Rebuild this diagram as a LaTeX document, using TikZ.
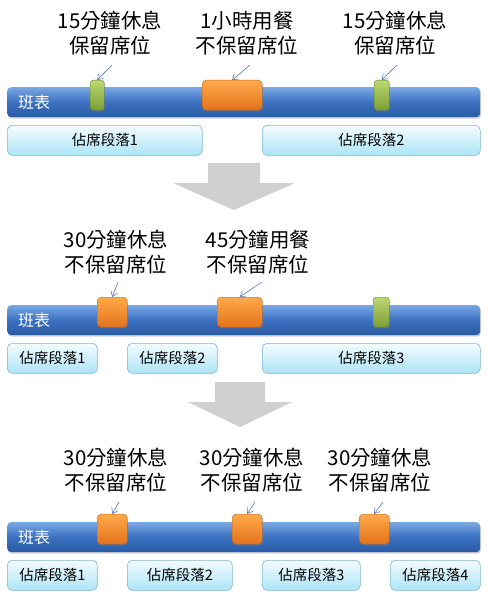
\documentclass[tikz,border=0pt]{standalone}
\usepackage{fontspec}
\setmainfont{Noto Sans CJK TC}
\usetikzlibrary{arrows.meta,shadows}
\definecolor{barTop}{HTML}{7AA8E4}
\definecolor{barMid}{HTML}{3B71C2}
\definecolor{barBot}{HTML}{2A5AA4}
\definecolor{greenTop}{HTML}{BCD973}
\definecolor{greenBot}{HTML}{7C9C34}
\definecolor{orangeTop}{HTML}{FFAA4C}
\definecolor{orangeBot}{HTML}{E4721A}
\definecolor{segTop}{HTML}{F4FCFF}
\definecolor{segBot}{HTML}{ACE4F6}
\definecolor{segLine}{HTML}{80B6CE}
\definecolor{pointerBlue}{HTML}{5877B6}
\definecolor{bigGray}{HTML}{D0D0D0}
\tikzset{
  timeline/.style={anchor=north west,inner sep=0pt,minimum width=473pt,minimum height=30pt,rounded corners=4pt,top color=barTop,bottom color=barBot,middle color=barMid,drop shadow={shadow xshift=0.8pt,shadow yshift=-1.5pt,opacity=0.35}},
  breakslot/.style={anchor=north west,inner sep=0pt,minimum height=30pt,rounded corners=3pt,top color=greenTop,bottom color=greenBot,draw=greenBot!85!black,line width=0.4pt,drop shadow={shadow xshift=0.8pt,shadow yshift=-1.2pt,opacity=0.4}},
  mealslot/.style={anchor=north west,inner sep=0pt,minimum height=30pt,rounded corners=4pt,top color=orangeTop,bottom color=orangeBot,draw=orangeBot!85!black,line width=0.4pt,drop shadow={shadow xshift=0.8pt,shadow yshift=-1.2pt,opacity=0.4}},
  segment/.style={anchor=north west,inner sep=0pt,minimum height=30pt,rounded corners=5pt,draw=segLine,line width=0.6pt,top color=segTop,bottom color=segBot,font=\fontsize{14.5}{17}\selectfont},
  note/.style={align=center,inner sep=0pt,font=\fontsize{20.5}{25}\selectfont},
  pointer/.style={draw=pointerBlue,line width=0.6pt,-{Straight Barb[length=5pt,width=7pt]}},
  bigarrow/.style={fill=bigGray,draw=none}
}
\begin{document}
\begin{tikzpicture}[x=1pt,y=-1pt]
\useasboundingbox[fill=white] (0,0) rectangle (487,599);
\node[timeline] (bar-0) at (7,87) {};
\node[anchor=west,text=white,inner sep=0pt,font=\fontsize{16}{18}\selectfont] (bar-label-0) at (18,102) {班表};
\node[breakslot,minimum width=14pt] (slot-0-1) at (90,80) {};
\node[mealslot,minimum width=60pt] (slot-0-2) at (202,80) {};
\node[breakslot,minimum width=15pt] (slot-0-3) at (374,80) {};
\node[segment,minimum width=195pt] (seg-0-1) at (7,125) {佔席段落1};
\node[segment,minimum width=218pt] (seg-0-2) at (262,125) {佔席段落2};
\node[note] (note-0-1) at (110,33) {15分鐘休息\\保留席位};
\node[note] (note-0-2) at (247,33) {1小時用餐\\不保留席位};
\node[note] (note-0-3) at (395,33) {15分鐘休息\\保留席位};
\coordinate (tail-0-1) at (112,65);
\coordinate (tail-0-2) at (250,65);
\coordinate (tail-0-3) at (397,65);
\draw[pointer] (tail-0-1) -- (slot-0-1.north);
\draw[pointer] (tail-0-2) -- (slot-0-2.north);
\draw[pointer] (tail-0-3) -- (slot-0-3.north);
\path[bigarrow] (208,163) -- (260,163) -- (260,183) -- (295,183) -- (234,210) -- (173,183) -- (208,183) -- cycle;
\node[timeline] (bar-1) at (7,305) {};
\node[anchor=west,text=white,inner sep=0pt,font=\fontsize{16}{18}\selectfont] (bar-label-1) at (18,320) {班表};
\node[mealslot,minimum width=30pt] (slot-1-1) at (97,297) {};
\node[mealslot,minimum width=45pt] (slot-1-2) at (217,297) {};
\node[breakslot,minimum width=16pt] (slot-1-3) at (373,297) {};
\node[segment,minimum width=90pt] (seg-1-1) at (7,343) {佔席段落1};
\node[segment,minimum width=90pt] (seg-1-2) at (127,343) {佔席段落2};
\node[segment,minimum width=218pt] (seg-1-3) at (262,343) {佔席段落3};
\node[note] (note-1-1) at (116,252) {30分鐘休息\\不保留席位};
\node[note] (note-1-2) at (258,252) {45分鐘用餐\\不保留席位};
\coordinate (tail-1-1) at (118,282);
\coordinate (tail-1-2) at (262,282);
\draw[pointer] (tail-1-1) -- (slot-1-1.north);
\draw[pointer] (tail-1-2) -- (slot-1-2.north);
\path[bigarrow] (215,382) -- (265,382) -- (265,402) -- (292,402) -- (240,427) -- (188,402) -- (215,402) -- cycle;
\node[timeline] (bar-2) at (7,522) {};
\node[anchor=west,text=white,inner sep=0pt,font=\fontsize{16}{18}\selectfont] (bar-label-2) at (18,537) {班表};
\node[mealslot,minimum width=30pt] (slot-2-1) at (97,514) {};
\node[mealslot,minimum width=30pt] (slot-2-2) at (232,514) {};
\node[mealslot,minimum width=30pt] (slot-2-3) at (359,514) {};
\node[segment,minimum width=90pt] (seg-2-1) at (7,560) {佔席段落1};
\node[segment,minimum width=105pt] (seg-2-2) at (127,560) {佔席段落2};
\node[segment,minimum width=98pt] (seg-2-3) at (262,560) {佔席段落3};
\node[segment,minimum width=90pt] (seg-2-4) at (390,560) {佔席段落4};
\node[note] (note-2-1) at (116,470) {30分鐘休息\\不保留席位};
\node[note] (note-2-2) at (252,470) {30分鐘休息\\不保留席位};
\node[note] (note-2-3) at (380,470) {30分鐘休息\\不保留席位};
\coordinate (tail-2-1) at (119,502);
\coordinate (tail-2-2) at (255,502);
\coordinate (tail-2-3) at (383,502);
\draw[pointer] (tail-2-1) -- (slot-2-1.north);
\draw[pointer] (tail-2-2) -- (slot-2-2.north);
\draw[pointer] (tail-2-3) -- (slot-2-3.north);
\end{tikzpicture}
\end{document}
